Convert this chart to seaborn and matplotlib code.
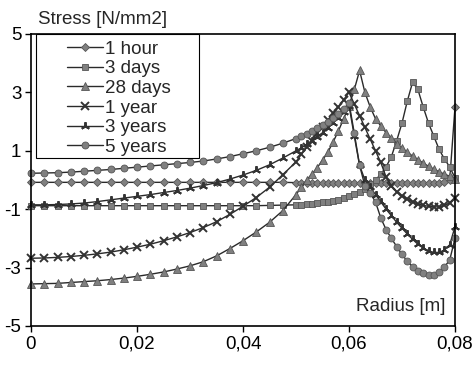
#Stress vs radius chart

import numpy as np
import pandas as pd

import matplotlib
matplotlib.use("Agg")
import matplotlib.pyplot as plt
import seaborn as sns
from matplotlib.patches import Rectangle

#Radius grid (m)
radius = [0.0, 0.0025, 0.005, 0.0075, 0.01, 0.0125, 0.015, 0.0175, 0.02, 0.0225,
          0.025, 0.0275, 0.03, 0.0325, 0.035, 0.0375, 0.04, 0.0425, 0.045, 0.0475,
          0.05, 0.051, 0.052, 0.053, 0.054, 0.055, 0.056, 0.057, 0.058, 0.059,
          0.06, 0.061, 0.062, 0.063, 0.064, 0.065, 0.066, 0.067, 0.068, 0.069,
          0.07, 0.071, 0.072, 0.073, 0.074, 0.075, 0.076, 0.077, 0.078, 0.079,
          0.08]

one_hour = [-0.08, -0.08, -0.08, -0.08, -0.08, -0.08, -0.08, -0.08, -0.08, -0.08,
            -0.08, -0.08, -0.08, -0.08, -0.08, -0.08, -0.08, -0.08, -0.08, -0.08,
            -0.09, -0.09, -0.09, -0.09, -0.09, -0.1, -0.1, -0.1, -0.1, -0.1,
            -0.1, -0.1, -0.1, -0.1, -0.1, -0.1, -0.1, -0.1, -0.1, -0.1,
            -0.1, -0.1, -0.1, -0.1, -0.1, -0.1, -0.1, -0.09, -0.06, 0.0,
            2.5]

three_days = [-0.88, -0.88, -0.88, -0.88, -0.88, -0.88, -0.88, -0.88, -0.88, -0.88,
              -0.88, -0.88, -0.88, -0.88, -0.88, -0.88, -0.88, -0.88, -0.87, -0.86,
              -0.85, -0.84, -0.83, -0.81, -0.79, -0.77, -0.74, -0.71, -0.67, -0.62,
              -0.56, -0.48, -0.4, -0.3, -0.15, 0.0, 0.2, 0.45, 0.8, 1.35,
              1.95, 2.7, 3.35, 3.1, 2.5, 1.95, 1.5, 1.05, 0.72, 0.45,
              0.07]

twenty_eight_days = [-3.56, -3.55, -3.54, -3.51, -3.48, -3.45, -3.41, -3.36, -3.3, -3.23,
                     -3.15, -3.05, -2.94, -2.8, -2.6, -2.35, -2.08, -1.78, -1.45, -1.05,
                     -0.5, -0.25, 0.0, 0.2, 0.42, 0.68, 0.95, 1.3, 1.68, 2.1,
                     2.55, 3.1, 3.75, 3.0, 2.5, 2.1, 1.85, 1.62, 1.43, 1.25,
                     1.1, 0.95, 0.82, 0.7, 0.58, 0.47, 0.37, 0.28, 0.2, 0.13,
                     0.05]

one_year = [-2.68, -2.67, -2.65, -2.62, -2.58, -2.53, -2.47, -2.39, -2.3, -2.2,
            -2.08, -1.95, -1.8, -1.63, -1.43, -1.18, -0.9, -0.6, -0.25, 0.18,
            0.62, 0.88, 1.12, 1.35, 1.6, 1.82, 2.05, 2.28, 2.5, 2.75,
            3.0, 2.6, 2.2, 1.8, 1.4, 1.0, 0.6, 0.1, -0.2, -0.4,
            -0.55, -0.65, -0.75, -0.82, -0.87, -0.9, -0.92, -0.92, -0.87, -0.78,
            -0.6]

three_years = [-0.85, -0.85, -0.84, -0.82, -0.79, -0.74, -0.68, -0.62, -0.56, -0.5,
               -0.43, -0.36, -0.28, -0.19, -0.09, 0.03, 0.17, 0.33, 0.52, 0.75,
               1.0, 1.1, 1.22, 1.35, 1.48, 1.62, 1.78, 1.95, 2.13, 2.33,
               2.55, 1.5, 0.5, 0.0, -0.25, -0.5, -0.75, -1.0, -1.22, -1.45,
               -1.65, -1.85, -2.03, -2.2, -2.33, -2.43, -2.48, -2.48, -2.4, -2.22,
               -1.6]

five_years = [0.23, 0.24, 0.25, 0.27, 0.3, 0.33, 0.36, 0.4, 0.44, 0.48,
              0.52, 0.56, 0.6, 0.65, 0.72, 0.8, 0.9, 1.0, 1.12, 1.26,
              1.42, 1.5, 1.58, 1.68, 1.78, 1.88, 2.0, 2.12, 2.25, 2.42,
              2.65, 1.6, 0.5, -0.2, -0.45, -0.75, -1.3, -1.7, -2.0, -2.28,
              -2.55, -2.78, -2.97, -3.1, -3.2, -3.25, -3.25, -3.15, -2.98, -2.74,
              -2.0]

labels = ["1 hour", "3 days", "28 days", "1 year", "3 years", "5 years"]
x_ticks = [0, 0.02, 0.04, 0.06, 0.08]
x_tick_labels = ["0", "0,02", "0,04", "0,06", "0,08"]
y_ticks = [-5, -3, -1, 1, 3, 5]

sns.set_style("ticks")
plt.rcParams['font.family'] = ['Liberation Sans', 'DejaVu Sans']
plt.rcParams['axes.unicode_minus'] = False
FS = 13.5

fig = plt.figure(figsize=(4.75, 3.68), dpi=100)
ax = fig.add_axes([31/475, 42/368, 424/475, 292/368])

series = [one_hour, three_days, twenty_eight_days, one_year, three_years, five_years]
markers = ['D', 's', '^', 'x', (3, 2, 0), 'o']
sizes = [4.0, 4.8, 5.4, 5.4, 6.2, 5.0]

for label, vals, mk, ms in zip(labels, series, markers, sizes):
    edge = '#333333' if mk == 'x' or mk == (3, 2, 0) else '#555555'
    mew = 1.4 if edge == '#333333' else 0.6
    sns.lineplot(x=radius, y=vals, ax=ax, label=label, marker=mk, markersize=ms,
                 color='#2a2a2a', markerfacecolor='#808080', markeredgecolor=edge,
                 markeredgewidth=mew, linewidth=1.0, estimator=None, sort=False,
                 clip_on=False)

ax.set_xlim(0, 0.08)
ax.set_ylim(-5, 5)
ax.set_xticks(x_ticks)
ax.set_xticklabels(x_tick_labels)
ax.set_yticks(y_ticks)
ax.set_xlabel("")
ax.set_ylabel("")
ax.tick_params(direction='out', length=4, width=1, labelsize=FS, colors='black', pad=3)
for s in ax.spines.values():
    s.set_visible(True)
    s.set_color('black')
    s.set_linewidth(1.2)

#Legend box drawn by hand (wide Excel style frame)
ax.add_patch(Rectangle((0.012, 0.575), 0.384, 0.425, transform=ax.transAxes,
                       facecolor='white', edgecolor='black', lw=0.8, zorder=4,
                       clip_on=False))
handles, labs = ax.get_legend_handles_labels()
leg = ax.legend(handles, labs, loc='upper left', bbox_to_anchor=(0.085, 0.978),
                frameon=False, fontsize=FS, handlelength=1.9, handletextpad=0.15,
                labelspacing=0.135, borderpad=0, borderaxespad=0)
leg.set_zorder(5)

fig.text(38/475, 1 - 24/368, "Stress [N/mm2]", fontsize=FS, ha='left', va='baseline')
fig.text(446/475, 1 - 311/368, "Radius [m]", fontsize=FS, ha='right', va='baseline')

fig.savefig("out.png", dpi=100)
